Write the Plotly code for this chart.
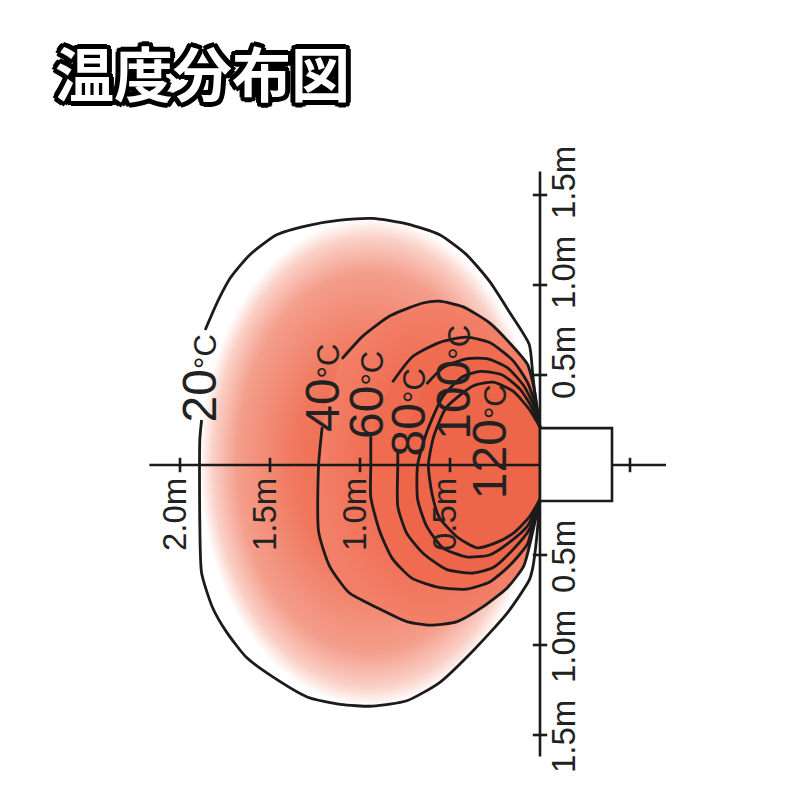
import plotly.graph_objects as go

# ---------------- data (metres; x<0 = distance in front of heater, y = height) ----
levels = [20, 40, 60, 80, 100, 120]

c20_x = [0, -0.02, -0.04, -0.06, -0.17, -0.28, -0.41, -0.56, -0.74, -0.93, -1.11, -1.29, -1.46, -1.61,
         -1.72, -1.79, -1.86, None, -1.88, -1.89, -1.89, -1.88, -1.82, -1.74, -1.63, -1.48, -1.29, -1.11,
         -0.93, -0.74, -0.56, -0.37, -0.18, -0.06, -0.04, -0.02, 0]
c20_y = [0.21, 0.33, 0.50, 0.67, 0.85, 1.02, 1.17, 1.28, 1.34, 1.37, 1.36, 1.33, 1.28, 1.17,
         1.04, 0.91, 0.75, None, 0.25, 0.14, -0.32, -0.60, -0.79, -0.93, -1.07, -1.18, -1.29, -1.33,
         -1.34, -1.31, -1.21, -1.03, -0.82, -0.64, -0.57, -0.42, -0.19]

c40_x = [0, -0.03, -0.07, -0.17, -0.28, -0.43, -0.56, -0.65, -0.83, -0.98, -1.10, None,
         -1.21, -1.23, -1.23, -1.17, -1.06, -0.91, -0.74, -0.61, -0.46, -0.32, -0.18, -0.09, -0.04, 0]
c40_y = [0.21, 0.41, 0.56, 0.68, 0.79, 0.88, 0.91, 0.90, 0.83, 0.72, 0.59, None,
         0.21, 0.0, -0.37, -0.56, -0.71, -0.79, -0.87, -0.89, -0.87, -0.79, -0.68, -0.56, -0.37, -0.19]

c60_x = [0, -0.02, -0.07, -0.15, -0.28, -0.41, -0.56, -0.71, -0.82, None,
         -0.94, -0.94, -0.94, -0.89, -0.82, -0.71, -0.56, -0.41, -0.28, -0.17, -0.07, -0.04, 0]
c60_y = [0.21, 0.32, 0.46, 0.58, 0.68, 0.71, 0.68, 0.60, 0.46, None,
         0.16, 0.0, -0.18, -0.37, -0.52, -0.63, -0.68, -0.69, -0.65, -0.56, -0.44, -0.33, -0.19]

c80_x = [0, -0.03, -0.09, -0.18, -0.29, -0.41, -0.54, -0.63, None,
         -0.79, -0.79, -0.79, -0.74, -0.65, -0.52, -0.37, -0.26, -0.15, -0.06, 0]
c80_y = [0.21, 0.32, 0.44, 0.54, 0.59, 0.59, 0.54, 0.45, None,
         0.07, 0.0, -0.23, -0.38, -0.49, -0.58, -0.60, -0.57, -0.47, -0.36, -0.19]

c100_x = [0, -0.04, -0.11, -0.21, -0.33, -0.43, -0.54, -0.63, -0.68, -0.68, -0.63, -0.54, -0.41,
          -0.28, -0.17, -0.07, 0]
c100_y = [0.21, 0.31, 0.42, 0.50, 0.52, 0.49, 0.38, 0.18, 0.0, -0.19, -0.34, -0.46, -0.51,
          -0.50, -0.43, -0.34, -0.19]

c120_x = [0, -0.06, -0.15, -0.26, -0.37, -0.52, -0.59, -0.62, -0.60, -0.56, -0.46, -0.35, -0.24,
          -0.15, -0.06, 0]
c120_y = [0.21, 0.31, 0.41, 0.46, 0.44, 0.32, 0.16, 0.0, -0.16, -0.29, -0.40, -0.46, -0.43,
          -0.38, -0.29, -0.19]

# contour label anchor points (metres)
label_x = [-1.89, -1.21, -0.96, -0.73, -0.48, -0.28]
label_y = [0.48, 0.43, 0.39, 0.29, 0.46, 0.13]

# axes
front_ticks = [-2.0, -1.5, -1.0, -0.5]
front_tick_text = ["2.0m", "1.5m", "1.0m", "0.5m"]
back_ticks = [0.5]
height_ticks = [1.5, 1.0, 0.5, -0.5, -1.0, -1.5]
height_tick_text = ["1.5m", "1.0m", "0.5m", "0.5m", "1.0m", "1.5m"]
h_axis_front = [-2.17, 0.0]
h_axis_back = [0.4, 0.7]
v_axis = [-1.62, 1.63]
heater_x = [0.0, 0.4]
heater_y = [-0.2, 0.205]

title_text = "温度分布図"

# ---------------- figure ----------------
contours = [(c20_x, c20_y), (c40_x, c40_y), (c60_x, c60_y), (c80_x, c80_y), (c100_x, c100_y), (c120_x, c120_y)]

DEEP = 'rgb(238,98,70)'
fills = [
    dict(type='radial', colorscale=[[0, DEEP], [0.45, 'rgb(240,120,94)'], [0.78, 'rgb(244,158,140)'],
                                    [0.92, 'rgb(250,208,198)'], [1, 'rgb(255,255,255)']]),
    dict(type='radial', colorscale=[[0, DEEP], [0.6, 'rgb(240,112,86)'], [1, 'rgb(242,128,104)']]),
    'rgb(239,108,80)',
    'rgb(238,102,74)',
    None,
    None,
]

fig = go.Figure()

for (cx, cy), f in zip(contours, fills):
    if f is None:
        continue
    fx = [v for v in cx if v is not None]
    fy = [v for v in cy if v is not None]
    kw = dict(x=fx, y=fy, mode='lines', line=dict(width=0, shape='spline', smoothing=0.6),
              fill='toself', hoverinfo='skip', showlegend=False)
    if isinstance(f, dict):
        kw['fillgradient'] = f
    else:
        kw['fillcolor'] = f
    fig.add_trace(go.Scatter(**kw))

LINE = '#1c1a1a'
for cx, cy in contours:
    fig.add_trace(go.Scatter(x=cx, y=cy, mode='lines', connectgaps=False,
                             line=dict(color=LINE, width=2.8, shape='spline', smoothing=0.6),
                             hoverinfo='skip', showlegend=False))

# axis lines
AX = dict(color=LINE, width=2.6)
fig.add_trace(go.Scatter(x=h_axis_front, y=[0, 0], mode='lines', line=AX, showlegend=False, hoverinfo='skip'))
fig.add_trace(go.Scatter(x=h_axis_back, y=[0, 0], mode='lines', line=AX, showlegend=False, hoverinfo='skip'))
fig.add_trace(go.Scatter(x=[0, 0], y=v_axis, mode='lines', line=AX, showlegend=False, hoverinfo='skip'))

# tick marks
tl = 0.04
tx, ty = [], []
for t in front_ticks + back_ticks:
    tx += [t, t, None]
    ty += [-tl, tl, None]
for t in height_ticks:
    tx += [-tl, tl, None]
    ty += [t, t, None]
fig.add_trace(go.Scatter(x=tx, y=ty, mode='lines', line=AX, showlegend=False, hoverinfo='skip'))

# heater box
fig.add_trace(go.Scatter(x=[heater_x[0], heater_x[1], heater_x[1], heater_x[0], heater_x[0]],
                         y=[heater_y[1], heater_y[1], heater_y[0], heater_y[0], heater_y[1]],
                         mode='lines', fill='toself', fillcolor='white', line=AX,
                         showlegend=False, hoverinfo='skip'))

TXT = '#222222'
FONT = 'Liberation Sans, Arial, sans-serif'
# axis labels
for t, s in zip(front_ticks, front_tick_text):
    fig.add_annotation(x=t, y=0, text=s, showarrow=False, textangle=-90, xshift=-6, yshift=-50,
                       font=dict(family=FONT, size=33, color=TXT))
for t, s in zip(height_ticks, height_tick_text):
    fig.add_annotation(x=0, y=t, text=s, showarrow=False, textangle=-90, xshift=23,
                       yshift=(12 if t > 0 else -2),
                       font=dict(family=FONT, size=33, color=TXT))

# contour labels
for lv, lx, ly in zip(levels, label_x, label_y):
    fig.add_annotation(x=lx, y=ly, text=f"{lv}<span style='font-size:31px'>°C</span>", showarrow=False,
                       textangle=-90, font=dict(family=FONT, size=48, color=TXT))

# title with heavy outline
offs = [(5, 0), (-5, 0), (0, 5), (0, -5), (4, 3), (-4, 3), (4, -3), (-4, -3),
        (3, 4), (-3, 4), (3, -4), (-3, -4), (2, 2), (-2, 2), (2, -2), (-2, -2)]
shadow = ", ".join(f"{dx}px {dy}px 0 #000" for dx, dy in offs)
fig.add_annotation(x=0.2425, y=0.92, xref='paper', yref='paper', xanchor='center', yanchor='middle',
                   text=title_text, showarrow=False,
                   font=dict(family='Noto Sans CJK JP', size=59, color='white', weight=700, shadow=shadow))

# page has an 8px body margin: map page pixels to metres (origin at page px 540,465; 180 px per metre)
OFF = 8
fig.update_layout(
    width=800, height=800, autosize=False,
    margin=dict(l=0, r=0, t=0, b=0),
    paper_bgcolor='white', plot_bgcolor='white',
    xaxis=dict(range=[(OFF - 540) / 180, (800 + OFF - 540) / 180], visible=False, fixedrange=True),
    yaxis=dict(range=[(465 - 800 - OFF) / 180, (465 - OFF) / 180], visible=False, fixedrange=True),
    showlegend=False,
)

fig.write_html("out.html")
